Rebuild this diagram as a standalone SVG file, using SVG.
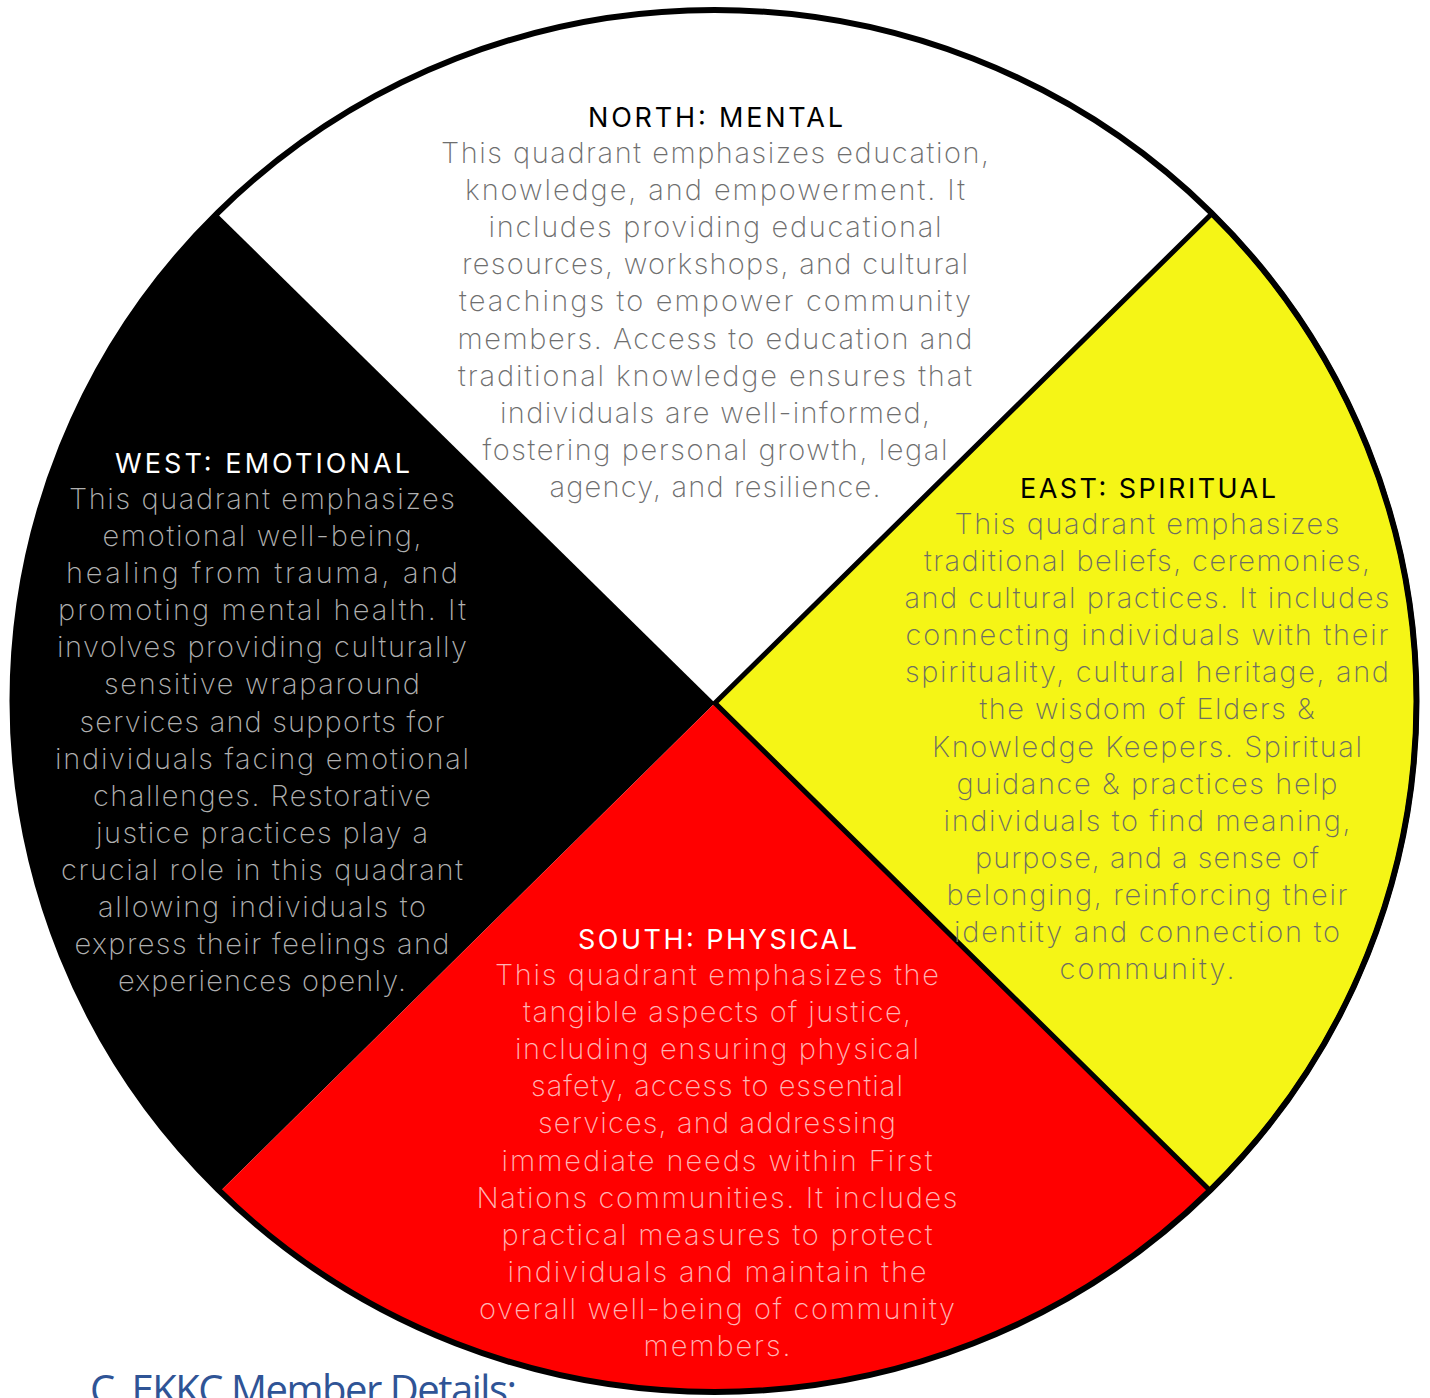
<svg xmlns="http://www.w3.org/2000/svg" width="1430" height="1398" viewBox="0 0 1430 1398">
<style>
.t{font-family:Inter,"Open Sans","Liberation Sans",sans-serif;font-size:27px;font-weight:400;text-anchor:middle}
.b{font-family:Inter,"Open Sans","Liberation Sans",sans-serif;font-size:29px;font-weight:200;text-anchor:middle}
.nb{fill:#6e6e6e}.wb{fill:#b0b0b0}.eb{fill:#6e6e62}.sb{fill:#ffb4b4}
</style>
<rect width="1430" height="1398" fill="#ffffff"/>
<g id="wheel">
<path id="north" d="M715,703 L217,213.5 A702,691 0 0 1 1212,213.5 Z" fill="#ffffff"/>
<path id="west" d="M715,703 L220,1191.5 A702,691 0 0 1 217,213.5 Z" fill="#000000"/>
<path id="south" d="M715,703 L1210,1190.5 A702,691 0 0 1 220,1191.5 Z" fill="#ff0000"/>
<path id="east" d="M715,703 L1212,213.5 A702,691 0 0 1 1210,1190.5 Z" fill="#f5f516" stroke="#000" stroke-width="5" stroke-linejoin="miter"/>
<ellipse cx="714.5" cy="701" rx="702" ry="691" fill="none" stroke="#000" stroke-width="6"/>
</g>
<g id="north-text">
<text class="t" x="715.5" y="127" textLength="255" fill="#000">NORTH: MENTAL</text>
<text class="b nb" x="715" y="163" textLength="548">This quadrant emphasizes education,</text>
<text class="b nb" x="715" y="200.1" textLength="500">knowledge, and empowerment. It</text>
<text class="b nb" x="715" y="237.2" textLength="453">includes providing educational</text>
<text class="b nb" x="715" y="274.3" textLength="506">resources, workshops, and cultural</text>
<text class="b nb" x="715" y="311.4" textLength="512">teachings to empower community</text>
<text class="b nb" x="715" y="348.5" textLength="515">members. Access to education and</text>
<text class="b nb" x="715" y="385.6" textLength="514">traditional knowledge ensures that</text>
<text class="b nb" x="715" y="422.7" textLength="430">individuals are well-informed,</text>
<text class="b nb" x="715" y="459.8" textLength="465">fostering personal growth, legal</text>
<text class="b nb" x="715" y="496.9" textLength="331">agency, and resilience.</text>
</g>
<g id="west-text">
<text class="t" x="262.5" y="473" textLength="295" fill="#fff">WEST: EMOTIONAL</text>
<text class="b wb" x="262" y="509" textLength="386">This quadrant emphasizes</text>
<text class="b wb" x="262" y="546.1" textLength="319">emotional well-being,</text>
<text class="b wb" x="262" y="583.2" textLength="392">healing from trauma, and</text>
<text class="b wb" x="262" y="620.2" textLength="408">promoting mental health. It</text>
<text class="b wb" x="262" y="657.3" textLength="410">involves providing culturally</text>
<text class="b wb" x="262" y="694.4" textLength="316">sensitive wraparound</text>
<text class="b wb" x="262" y="731.5" textLength="365">services and supports for</text>
<text class="b wb" x="262" y="768.6" textLength="414">individuals facing emotional</text>
<text class="b wb" x="262" y="805.6" textLength="338">challenges. Restorative</text>
<text class="b wb" x="262" y="842.7" textLength="332">justice practices play a</text>
<text class="b wb" x="262" y="879.8" textLength="402">crucial role in this quadrant</text>
<text class="b wb" x="262" y="916.9" textLength="328">allowing individuals to</text>
<text class="b wb" x="262" y="954" textLength="375">express their feelings and</text>
<text class="b wb" x="262" y="991" textLength="288">experiences openly.</text>
</g>
<g id="east-text">
<text class="t" x="1148" y="498" textLength="256" fill="#000">EAST: SPIRITUAL</text>
<text class="b eb" x="1147" y="534" textLength="385">This quadrant emphasizes</text>
<text class="b eb" x="1147" y="571.1" textLength="446">traditional beliefs, ceremonies,</text>
<text class="b eb" x="1147" y="608.2" textLength="485">and cultural practices. It includes</text>
<text class="b eb" x="1147" y="645.2" textLength="483">connecting individuals with their</text>
<text class="b eb" x="1147" y="682.3" textLength="484">spirituality, cultural heritage, and</text>
<text class="b eb" x="1147" y="719.4" textLength="335">the wisdom of Elders &amp;</text>
<text class="b eb" x="1147" y="756.5" textLength="430">Knowledge Keepers. Spiritual</text>
<text class="b eb" x="1147" y="793.6" textLength="381">guidance &amp; practices help</text>
<text class="b eb" x="1147" y="830.6" textLength="407">individuals to find meaning,</text>
<text class="b eb" x="1147" y="867.7" textLength="344">purpose, and a sense of</text>
<text class="b eb" x="1147" y="904.8" textLength="401">belonging, reinforcing their</text>
<text class="b eb" x="1147" y="941.9" textLength="386">identity and connection to</text>
<text class="b eb" x="1147" y="979" textLength="175">community.</text>
</g>
<g id="south-text">
<text class="t" x="717.5" y="949" textLength="279" fill="#fff">SOUTH: PHYSICAL</text>
<text class="b sb" x="717" y="985" textLength="444">This quadrant emphasizes the</text>
<text class="b sb" x="717" y="1022.1" textLength="388">tangible aspects of justice,</text>
<text class="b sb" x="717" y="1059.2" textLength="404">including ensuring physical</text>
<text class="b sb" x="717" y="1096.3" textLength="372">safety, access to essential</text>
<text class="b sb" x="717" y="1133.4" textLength="358">services, and addressing</text>
<text class="b sb" x="717" y="1170.5" textLength="431">immediate needs within First</text>
<text class="b sb" x="717" y="1207.6" textLength="481">Nations communities. It includes</text>
<text class="b sb" x="717" y="1244.7" textLength="431">practical measures to protect</text>
<text class="b sb" x="717" y="1281.8" textLength="419">individuals and maintain the</text>
<text class="b sb" x="717" y="1318.9" textLength="476">overall well-being of community</text>
<text class="b sb" x="717" y="1356" textLength="147">members.</text>
</g>
<g id="heading">
<text x="90" y="1404" textLength="427" font-family="'Open Sans','Noto Sans','Liberation Sans',sans-serif" font-size="40" font-weight="500" fill="#2f5496">C. EKKC Member Details:</text>
</g>
</svg>
